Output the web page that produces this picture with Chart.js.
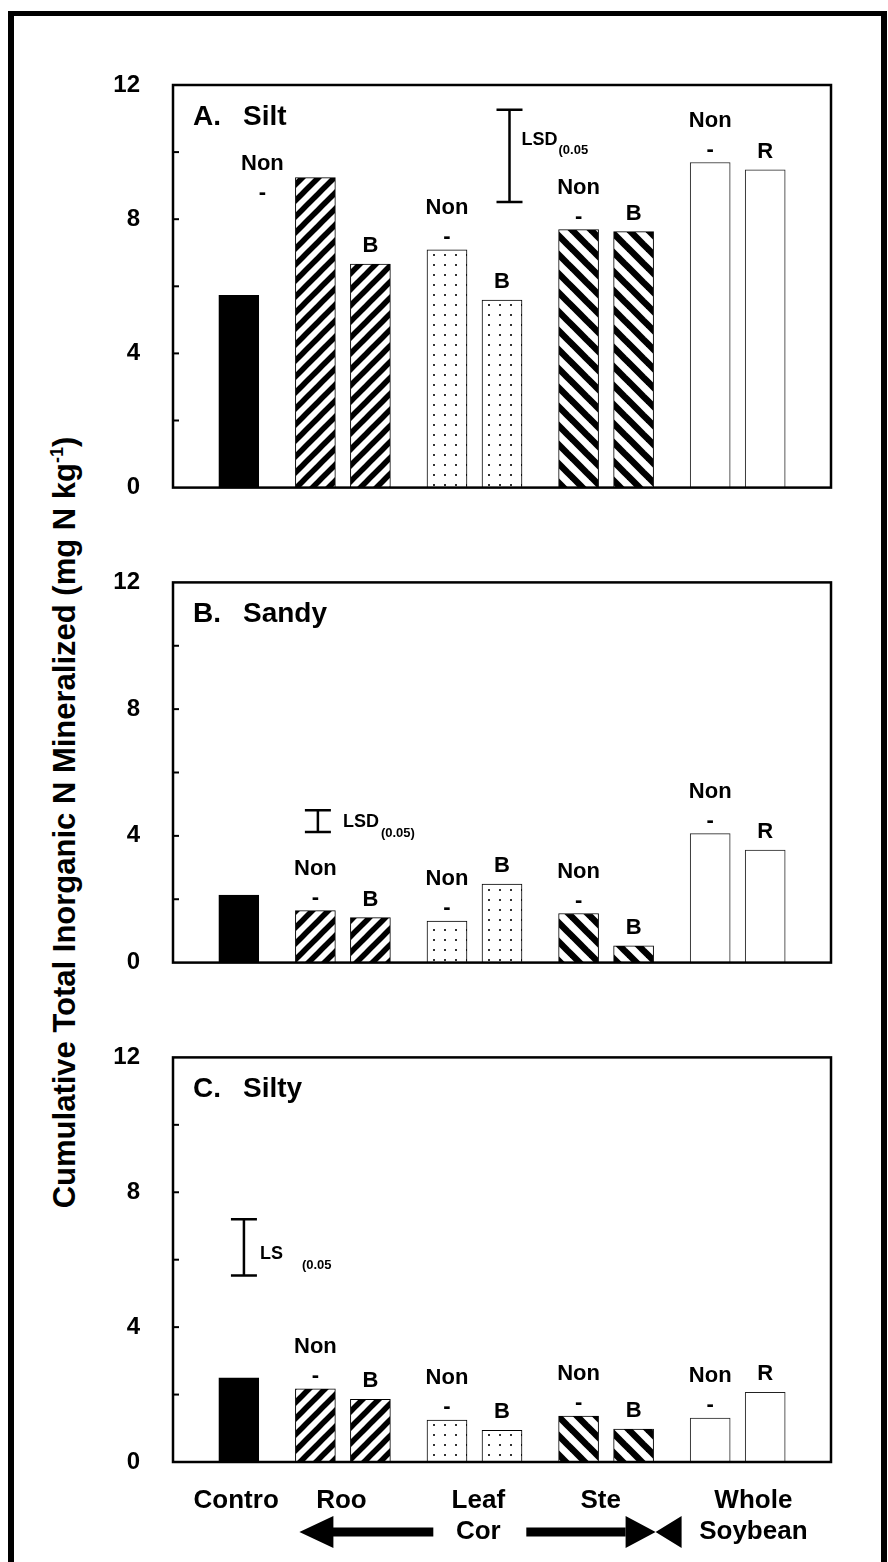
<!DOCTYPE html>
<html>
<head>
<meta charset="utf-8">
<script src="https://cdn.jsdelivr.net/npm/chart.js@4.4.0/dist/chart.umd.min.js"></script>
<style>
  body { margin: 0; background: #fff; }
  #fig { position: relative; width: 888px; height: 1562px; overflow: hidden; background: #fff; font-family: "Liberation Sans", Arial, sans-serif; }
  #fig canvas { position: absolute; left: 0; }
  #frame { position: absolute; left: 8px; top: 11px; width: 867px; height: 1600px; border-left: 6px solid #000; border-top: 5px solid #000; border-right: 6px solid #000; }
  #ytitle { position: absolute; width: 900px; height: 31px; line-height: 31px; left: -386px; top: 807px; transform: rotate(-90deg); text-align: center; font-weight: bold; font-size: 31px; white-space: nowrap; color: #000; }
  #ytitle sup { font-size: 18px; line-height: 0; }
</style>
</head>
<body>
<div id="fig">
  <div id="frame"></div>
  <div id="ytitle">Cumulative Total Inorganic N Mineralized (mg N kg<sup>-1</sup>)</div>
  <canvas id="silt" width="888" height="535" style="top:0px"></canvas>
  <canvas id="sandy" width="888" height="475" style="top:535px"></canvas>
  <canvas id="silty" width="888" height="552" style="top:1010px"></canvas>
</div>
<script>
// residue groups along the x axis
const groups = ['Control', 'Root', 'Leaf', 'Stem', 'Whole'];
const xLabels = ['Contro', 'Roo', ['Leaf', 'Cor'], 'Ste', ['Whole', 'Soybean']];
const firstLabels = ['', 'Non', 'Non', 'Non', 'Non'];
const secondLabels = ['', 'B', 'B', 'B', 'R'];
const yTicks = [0, 4, 8, 12];

// cumulative N (mg N/kg): first bar = Non (control for group 0), second = B / R
const siltFirst = [5.73, 9.24, 7.09, 7.69, 9.69];
const siltSecond = [null, 6.66, 5.59, 7.63, 9.47];
const sandyFirst = [2.13, 1.64, 1.31, 1.55, 4.07];
const sandySecond = [null, 1.42, 2.48, 0.53, 3.55];
const siltyFirst = [2.50, 2.17, 1.24, 1.36, 1.30];
const siltySecond = [null, 1.86, 0.94, 0.98, 2.07];

// LSD(0.05) bars [low, high]
const siltLsd = [8.51, 11.26];
const sandyLsd = [4.12, 4.81];
const siltyLsd = [5.53, 7.2];

const PAIR = 0.418; // gap between Non bar and B/R bar, in group units
const labelAt = [-0.02, 0.78, 1.82, 2.75, 3.91]; // where the x labels sit
const FONT = '"Liberation Sans", Arial, sans-serif';
Chart.defaults.font.family = FONT;
Chart.defaults.color = '#000';

function stripes(size, lw, dir){
  const c = document.createElement('canvas');
  c.width = c.height = size;
  const g = c.getContext('2d');
  g.fillStyle = '#fff';
  g.fillRect(0, 0, size, size);
  g.strokeStyle = '#000';
  g.lineWidth = lw;
  for (const k of [-size, 0, size]) {
    g.beginPath();
    if (dir > 0) { g.moveTo(k - size, 2 * size); g.lineTo(k + 2 * size, -size); }
    else { g.moveTo(k - size, -size); g.lineTo(k + 2 * size, 2 * size); }
    g.stroke();
  }
  return g.createPattern(c, 'repeat');
}
function dots(){
  const c = document.createElement('canvas');
  c.width = 11; c.height = 10;
  const g = c.getContext('2d');
  g.fillStyle = '#fff';
  g.fillRect(0, 0, 11, 10);
  g.fillStyle = '#333';
  g.fillRect(4, 4, 2, 2);
  return g.createPattern(c, 'repeat');
}
const fills = ['#000', stripes(16, 5.5, 1), dots(), stripes(19, 6.5, -1), '#fff'];

const decor = {
  id: 'decor',
  afterDatasetsDraw(chart, args, o){
    const ctx = chart.ctx, a = chart.chartArea, xs = chart.scales.x, ys = chart.scales.y;
    ctx.save();
    ctx.strokeStyle = '#000';
    ctx.fillStyle = '#000';
    ctx.lineWidth = 2.5;
    ctx.strokeRect(a.left, a.top, a.width, a.height);

    // small ticks pointing inward
    ctx.lineWidth = 2;
    ys.ticks.forEach(t => {
      if (t.value > 0 && t.value < 12) {
        const y = ys.getPixelForValue(t.value);
        ctx.beginPath(); ctx.moveTo(a.left, y); ctx.lineTo(a.left + 6, y); ctx.stroke();
      }
    });

    // panel title
    ctx.font = 'bold 28px ' + FONT;
    ctx.textBaseline = 'alphabetic';
    ctx.textAlign = 'left';
    ctx.fillText(o.letter, a.left + 20, a.top + 40);
    ctx.fillText(o.soil, a.left + 70, a.top + 40);

    // bar labels
    ctx.font = 'bold 22px ' + FONT;
    ctx.textAlign = 'center';
    ctx.textBaseline = 'middle';
    chart.data.datasets.forEach((ds, i) => {
      if (i === 0) return;
      const m = chart.getDatasetMeta(i).data;
      const sh = (o.shift && o.shift[i]) || [0, 0];
      ctx.fillText(firstLabels[i], m[0].x + sh[0], m[0].y - 42 + sh[1]);
      ctx.fillText('-', m[0].x + sh[0], m[0].y - 13 + sh[1]);
      if (m[1]) ctx.fillText(secondLabels[i], m[1].x, m[1].y - 18);
    });

    // LSD bar
    const lx = xs.getPixelForValue(o.lsdAt);
    const y1 = ys.getPixelForValue(o.lsd[0]), y2 = ys.getPixelForValue(o.lsd[1]);
    ctx.lineWidth = 2.5;
    ctx.beginPath();
    ctx.moveTo(lx, y1); ctx.lineTo(lx, y2);
    ctx.moveTo(lx - 13, y1); ctx.lineTo(lx + 13, y1);
    ctx.moveTo(lx - 13, y2); ctx.lineTo(lx + 13, y2);
    ctx.stroke();
    ctx.textAlign = 'left';
    ctx.font = 'bold 18px ' + FONT;
    ctx.fillText(o.lsdText, lx + o.tdx, y2 + o.tdy);
    ctx.font = 'bold 13px ' + FONT;
    ctx.fillText(o.lsdSub, lx + o.tdx + o.subDx, y2 + o.tdy + 11);

    // arrows under the x labels
    if (o.arrows) {
      const y = a.bottom + 70;
      const cx = xs.getPixelForValue(labelAt[2]);
      const tipL = chart.getDatasetMeta(1).data[0].x - 16;
      const tipR = chart.getDatasetMeta(3).data[1].x + 22;
      ctx.fillRect(tipL + 30, y - 4.5, cx - 45 - tipL - 30, 9);
      ctx.fillRect(cx + 48, y - 4.5, tipR - 30 - cx - 48, 9);
      ctx.beginPath();
      ctx.moveTo(tipL, y); ctx.lineTo(tipL + 34, y - 16); ctx.lineTo(tipL + 34, y + 16); ctx.closePath();
      ctx.moveTo(tipR, y); ctx.lineTo(tipR - 30, y - 16); ctx.lineTo(tipR - 30, y + 16); ctx.closePath();
      ctx.moveTo(tipR, y); ctx.lineTo(tipR + 26, y - 16); ctx.lineTo(tipR + 26, y + 16); ctx.closePath();
      ctx.fill();
    }
    ctx.restore();
  }
};

function makeChart(id, first, second, lsd, opts, showX, pad){
  const datasets = groups.map((g, i) => {
    const pts = [{x: i === 0 ? 0 : i - PAIR, y: first[i]}];
    if (second[i] != null) pts.push({x: i, y: second[i]});
    return {
      label: g,
      data: pts,
      backgroundColor: fills[i],
      borderColor: i === 4 ? '#222' : '#000',
      borderWidth: 1,
      barThickness: 40,
      grouped: false
    };
  });
  return new Chart(document.getElementById(id), {
    type: 'bar',
    data: { datasets: datasets },
    options: {
      responsive: false,
      animation: false,
      events: [],
      layout: { padding: pad },
      plugins: {
        legend: { display: false },
        tooltip: { enabled: false },
        decor: opts
      },
      scales: {
        x: {
          type: 'linear',
          min: -0.5,
          max: 4.5,
          offset: false,
          display: showX,
          grid: { display: false, drawTicks: false, offset: false },
          border: { display: false },
          afterBuildTicks: s => { s.ticks = labelAt.map(v => ({ value: v })); },
          afterFit: s => { s.height = showX ? 100 : 0; },
          ticks: {
            autoSkip: false,
            maxRotation: 0,
            padding: 23,
            font: { size: 26, weight: 'bold' },
            callback: (v, i) => xLabels[i]
          }
        },
        y: {
          min: 0,
          max: 12,
          afterFit: s => { s.width = 173; },
          grid: { display: false, drawTicks: false },
          border: { display: false },
          ticks: {
            stepSize: 2,
            padding: 33,
            font: { size: 24, weight: 'bold' },
            callback: v => yTicks.includes(v) ? v : ''
          }
        }
      }
    },
    plugins: [decor]
  });
}

makeChart('silt', siltFirst, siltSecond, siltLsd,
  { letter: 'A.', soil: 'Silt', lsd: siltLsd, lsdAt: 2.057, lsdText: 'LSD', lsdSub: '(0.05', tdx: 12, tdy: 30, subDx: 37, shift: {1: [-53, 28]} },
  false, { top: 85, bottom: 18, left: 0, right: 57 });

makeChart('sandy', sandyFirst, sandySecond, sandyLsd,
  { letter: 'B.', soil: 'Sandy', lsd: sandyLsd, lsdAt: 0.601, lsdText: 'LSD', lsdSub: '(0.05)', tdx: 25, tdy: 12, subDx: 38 },
  false, { top: 23, bottom: 20, left: 0, right: 57 });

makeChart('silty', siltyFirst, siltySecond, siltyLsd,
  { letter: 'C.', soil: 'Silty', lsd: siltyLsd, lsdAt: 0.039, lsdText: 'LS', lsdSub: '(0.05', tdx: 16, tdy: 35, subDx: 42, arrows: true },
  true, { top: 22, bottom: 0, left: 0, right: 57 });
</script>
</body>
</html>
